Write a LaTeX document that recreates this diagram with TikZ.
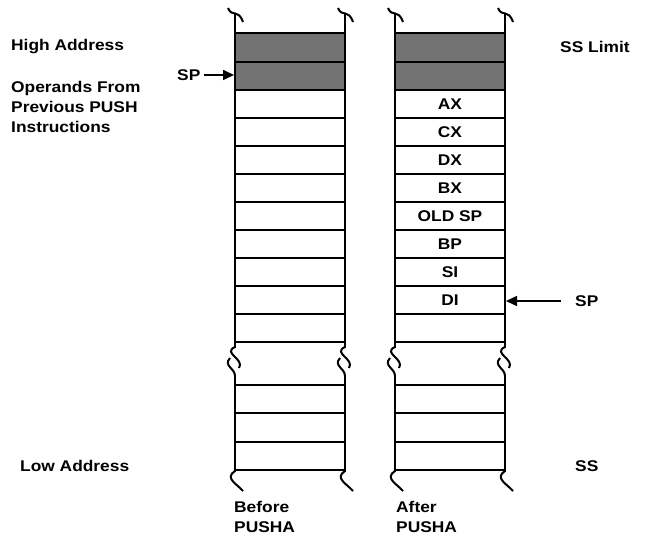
\documentclass[tikz,border=0pt]{standalone}
\usepackage{fontspec}
\setmainfont{Liberation Sans}[FakeStretch=1.12]
\usetikzlibrary{arrows.meta}
\tikzset{
  >={Triangle[length=11pt,width=10pt]},
  wall/.style={line width=2pt},
  rung/.style={line width=2pt},
  used/.style={fill=black!55,draw=black,line width=2pt},
  txt/.style={font=\fontsize{15.5}{20}\selectfont\bfseries,inner sep=0pt,anchor=west,align=left},
  reg/.style={font=\fontsize{15.5}{20}\selectfont\bfseries,inner sep=0pt},
  ptr/.style={->,line width=1.6pt},
}
\begin{document}
\begin{tikzpicture}[x=1pt,y=-1pt]
  \useasboundingbox (0,0) rectangle (647,537);

  % stack walls with curls and breaks
  \foreach \x in {235,345,395,505} {
    \draw[wall] (\x,14) -- (\x,348);
    \draw[wall] (\x,375) -- (\x,472);
    \draw[wall] (\x-7,8) .. controls (\x-3,18) and (\x+3,8) .. (\x+8,22);
    \draw[wall] (\x,347) .. controls (\x-13,353) and (\x+10,359) .. (\x+4,368);
    \draw[wall] (\x-5,358) .. controls (\x-12,366) and (\x,368) .. (\x,376);
    \draw[wall] (\x,471) .. controls (\x-11,478) and (\x+2,484) .. (\x+8,491);
  }

  % shaded operands and empty slots
  \foreach \x in {235,395} {
    \filldraw[used] (\x,33) rectangle (\x+110,62);
    \filldraw[used] (\x,62) rectangle (\x+110,90);
    \foreach \y in {90,118,...,342,385,413,442,470}
      \draw[rung] (\x,\y) -- (\x+110,\y);
  }

  % registers pushed
  \foreach \name [count=\i] in {AX,CX,DX,BX,OLD SP,BP,SI,DI}
    \node[reg] (r\i) at (450,76+28*\i) {\name};

  % side labels
  \node[txt] (high) at (11,47) {High Address};
  \node[txt] (ops) at (11,107) {Operands From\\Previous PUSH\\Instructions};
  \node[txt] (low) at (20,466) {Low Address};
  \node[txt] (limit) at (560,47) {SS Limit};
  \node[txt] (ss) at (575,466) {SS};
  \node[txt] (before) at (234,517) {Before\\PUSHA};
  \node[txt] (after) at (396,517) {After\\PUSHA};

  % stack pointers
  \node[txt] (spL) at (177,75) {SP};
  \coordinate (spLtip) at (234,75);
  \draw[ptr,shorten <=3pt] (spL) -- (spLtip);
  \node[txt] (spR) at (575,301) {SP};
  \coordinate (spRtip) at (506,301);
  \draw[ptr,shorten <=14pt] (spR) -- (spRtip);
\end{tikzpicture}
\end{document}
